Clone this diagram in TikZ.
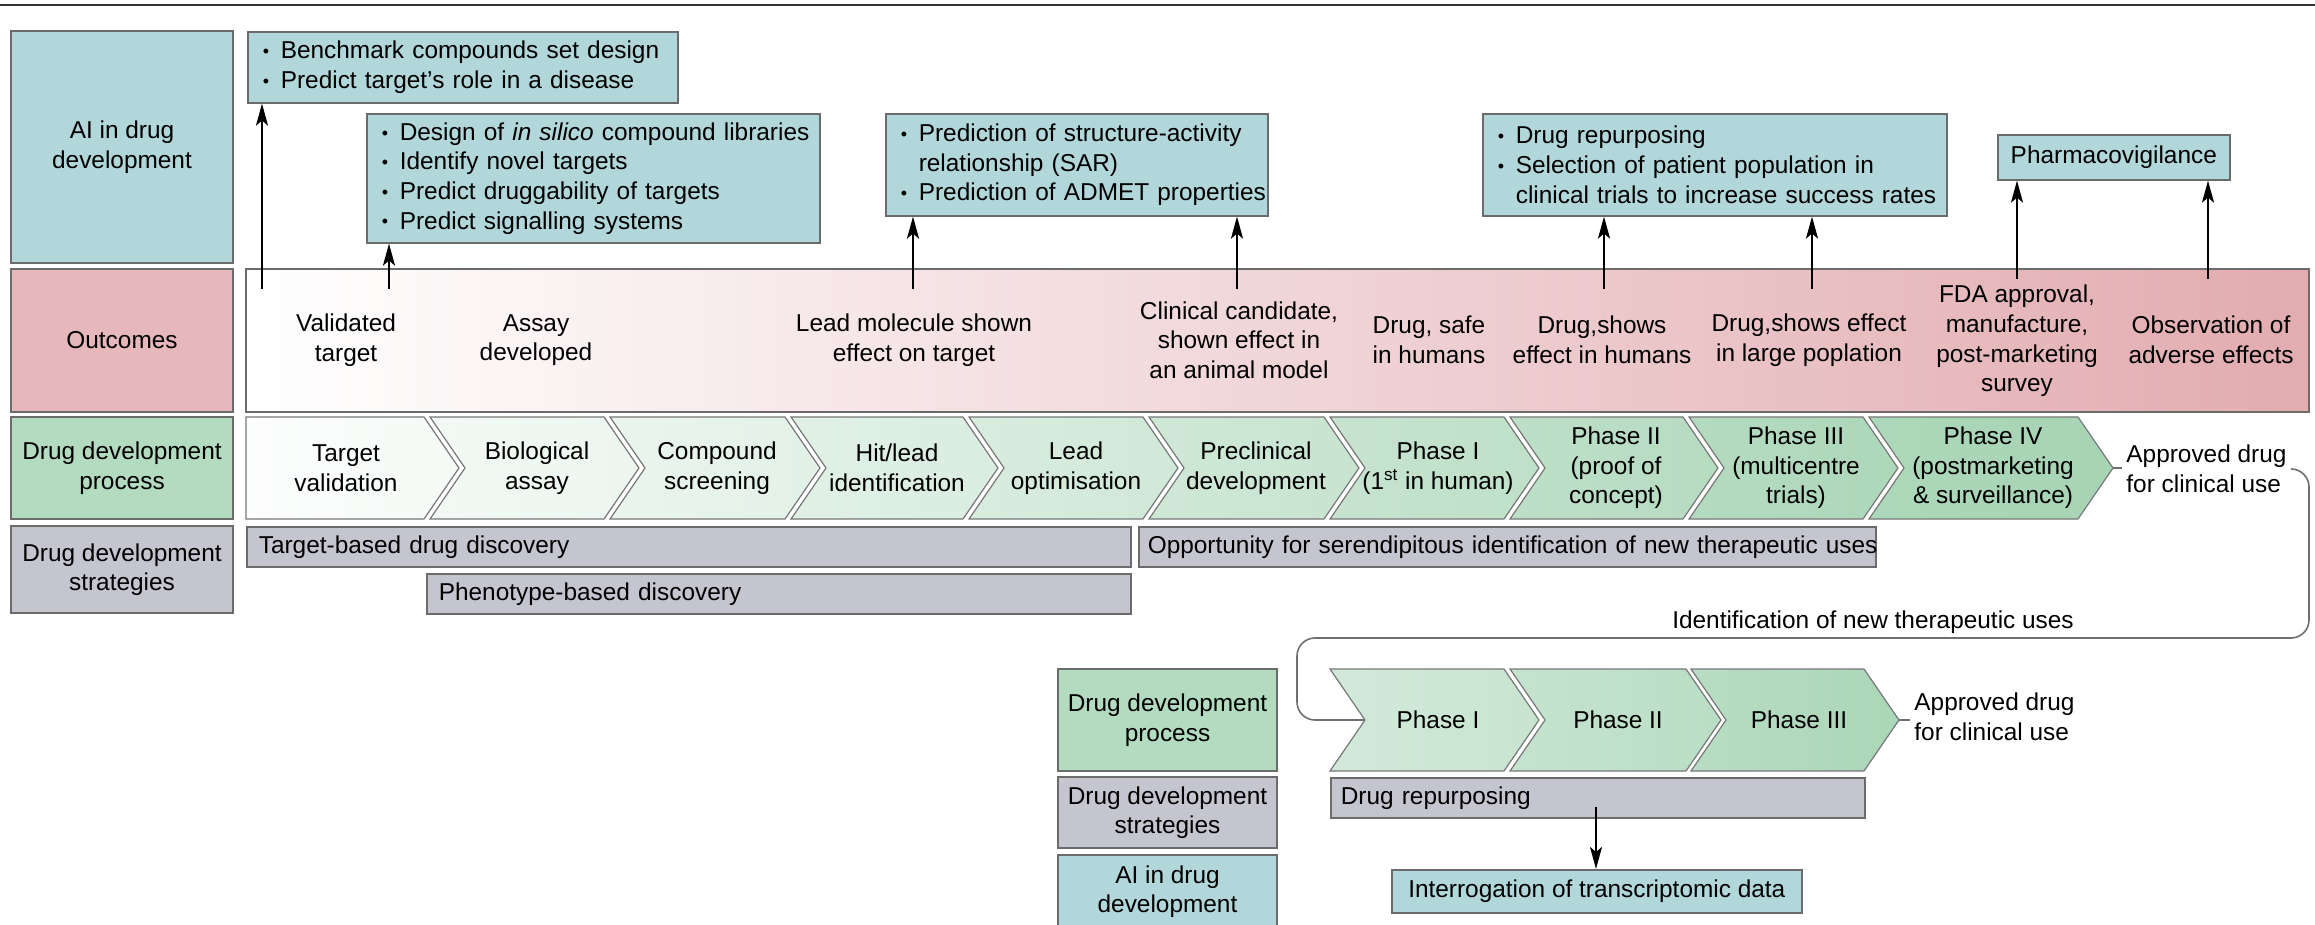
\documentclass[tikz,border=0pt]{standalone}
\usepackage{fontspec}
\setmainfont{Liberation Sans}
\usetikzlibrary{arrows.meta}
\definecolor{aiC}{HTML}{B1D7DA}
\definecolor{outC}{HTML}{E7B8BB}
\definecolor{procC}{HTML}{B2DBBF}
\definecolor{stratC}{HTML}{C5C5D0}
\definecolor{pinkR}{HTML}{E2ACB0}
\definecolor{chevG}{HTML}{A6D4B4}
\definecolor{bordC}{HTML}{6B6B6B}
\definecolor{chevB}{HTML}{777777}
\definecolor{connC}{HTML}{6F6F6F}
\newcommand{\fs}{\fontsize{12.2pt}{14.8pt}\selectfont}
\newcommand{\bul}{\makebox[9pt][l]{\fontsize{9pt}{9pt}\selectfont\raisebox{0.6pt}{•}}}
\newcommand{\bl}[1]{\mbox{\bul #1}}
\newcommand{\cl}[1]{\mbox{\hspace*{9pt}#1}}
\newcommand{\chevN}[6]{%
  \path[chevline, left color=chevG!#5!white, right color=chevG!#6!white]
   (#1,#3) -- (#2,#3) -- ({#2+35},{(#3+#4)/2}) -- (#2,#4) -- (#1,#4) -- ({#1+35},{(#3+#4)/2}) -- cycle;}
\begin{document}
\begin{tikzpicture}[x=0.5pt,y=-0.5pt,
  every node/.style={font=\fs, inner sep=0pt, text=black},
  box/.style={draw=bordC, line width=0.8pt},
  lab/.style={box, align=center, minimum width=111pt},
  labb/.style={box, align=center, minimum width=109.5pt},
  aib/.style={box, fill=aiC, anchor=north west, align=left, inner xsep=7.5pt},
  aic/.style={box, fill=aiC, anchor=north west, align=center},
  bar/.style={box, fill=stratC, anchor=north west, align=left, inner xsep=6pt, minimum height=20pt},
  txt/.style={align=center},
  arr/.style={-{Stealth[length=11pt,width=6pt,inset=2.5pt]}, line width=1.2pt, black},
  conn/.style={draw=connC, line width=0.8pt, rounded corners=9pt},
  chevline/.style={draw=chevB, line width=0.6pt}]
\useasboundingbox (0,0) rectangle (2315,925);
\clip (0,0) rectangle (2315,925);

% top rule
\draw[line width=1.3pt, black!80] (0,5) -- (2315,5);

% left labels
\node[lab, fill=aiC, minimum height=116pt] (aiL) at (122,147) {AI in drug\\development};
\node[lab, fill=outC, minimum height=71.5pt] (outL) at (122,340.5) {Outcomes};
\node[lab, fill=procC, minimum height=51pt] (procL) at (122,468) {Drug development\\process};
\node[lab, fill=stratC, minimum height=43.5pt] (stratL) at (122,569.5) {Drug development\\strategies};

% AI boxes
\node[aib, minimum width=215pt, minimum height=35.5pt, text width=200pt] (ai1) at (247,31)
  {\bl{Benchmark compounds set design}\\\bl{Predict target’s role in a disease}};
\node[aib, minimum width=226.5pt, minimum height=64.5pt, text width=211.5pt] (ai2) at (366,113)
  {\bl{Design of \textit{in silico} compound libraries}\\\bl{Identify novel targets}\\\bl{Predict druggability of targets}\\\bl{Predict signalling systems}};
\node[aib, minimum width=191pt, minimum height=51pt, text width=176pt] (ai3) at (885,113)
  {\bl{Prediction of structure-activity}\\\cl{relationship (SAR)}\\\bl{Prediction of ADMET properties}};
\node[aib, minimum width=232pt, minimum height=51pt, text width=217pt] (ai4) at (1482,113)
  {\bl{Drug repurposing}\\\bl{Selection of patient population in}\\\cl{clinical trials to increase success rates}};
\node[aic, minimum width=116pt, minimum height=22.5pt] (ai5) at (1997,134) {Pharmacovigilance};

% outcomes band
\path[box, left color=white, right color=pinkR] (246,269) rectangle (2309,412);
\node[txt] (o1) at (346,340) {Validated\\target};
\node[txt] (o2) at (536,340) {Assay\\developed};
\node[txt] (o3) at (914,340) {Lead molecule shown\\effect on target};
\node[txt] (o4) at (1239,340) {Clinical candidate,\\shown effect in\\an animal model};
\node[txt] (o5) at (1429,340) {Drug, safe\\in humans};
\node[txt] (o6) at (1602,340) {Drug,shows\\effect in humans};
\node[txt] (o7) at (1809,340) {Drug,shows effect\\in large poplation};
\node[txt] (o8) at (2017,341) {FDA approval,\\manufacture,\\post-marketing\\survey};
\node[txt] (o9) at (2211,340) {Observation of\\adverse effects};

% arrows outcomes -> AI
\coordinate (s1) at (262,289);
\coordinate (s2) at (389,289);
\coordinate (s3) at (913,289);
\coordinate (s4) at (1237,289);
\coordinate (s5) at (1604,289);
\coordinate (s6) at (1812,289);
\coordinate (s7) at (2017,279);
\coordinate (s8) at (2208,279);
\draw[arr] (s1) -- (s1 |- ai1.south);
\draw[arr] (s2) -- (s2 |- ai2.south);
\draw[arr] (s3) -- (s3 |- ai3.south);
\draw[arr] (s4) -- (s4 |- ai3.south);
\draw[arr] (s5) -- (s5 |- ai4.south);
\draw[arr] (s6) -- (s6 |- ai4.south);
\draw[arr] (s7) -- (s7 |- ai5.south);
\draw[arr] (s8) -- (s8 |- ai5.south);

% process chevrons
\path[chevline, left color=chevG!3!white, right color=chevG!12!white]
  (246,417) -- (424,417) -- (459,468) -- (424,519) -- (246,519) -- cycle;
\chevN{430}{604}{417}{519}{14}{22}
\chevN{610}{785}{417}{519}{24}{32}
\chevN{791}{963}{417}{519}{34}{42}
\chevN{969}{1143}{417}{519}{44}{52}
\chevN{1149}{1324}{417}{519}{54}{62}
\chevN{1330}{1504}{417}{519}{64}{72}
\chevN{1510}{1683}{417}{519}{74}{82}
\chevN{1689}{1863}{417}{519}{84}{92}
\chevN{1869}{2078}{417}{519}{92}{100}
\node[txt] (c1) at (346,468) {Target\\validation};
\node[txt] (c2) at (537,468) {Biological\\assay};
\node[txt] (c3) at (717,468) {Compound\\screening};
\node[txt] (c4) at (897,468) {Hit/lead\\identification};
\node[txt] (c5) at (1076,468) {Lead\\optimisation};
\node[txt] (c6) at (1256,468) {Preclinical\\development};
\node[txt] (c7) at (1438,468) {Phase I\\(1\textsuperscript{st} in human)};
\node[txt] (c8) at (1616,468) {Phase II\\(proof of\\concept)};
\node[txt] (c9) at (1796,468) {Phase III\\(multicentre\\trials)};
\node[txt] (c10) at (1993,468) {Phase IV\\(postmarketing\\\& surveillance)};

% strategies bars
\node[bar, minimum width=442pt, text width=430pt] (tb) at (246,526) {\mbox{Target-based drug discovery}};
\node[bar, minimum width=352pt, text width=340pt] (pb) at (426,573) {\mbox{Phenotype-based discovery}};
\node[bar, minimum width=368.5pt, text width=359.5pt, inner xsep=4.5pt] (ob) at (1138,526) {\mbox{Opportunity for serendipitous identification of new therapeutic uses}};

% approved drug and bracket
\node[align=left, anchor=west] (appr1) at (2126,469) {Approved drug\\for clinical use};
\coordinate (c10tip) at (2113,468);
\coordinate (a1w) at ([xshift=-2pt]appr1.west);
\draw[conn] (c10tip) -- (c10tip -| a1w);
\node[txt] (ident) at (1873,622) {Identification of new therapeutic uses};
\coordinate (b1n) at (1365,720);
\draw[conn] ([xshift=2pt]appr1.east) -- (2309,469) -- (2309,638) -- (1297,638) -- (1297,720) -- (b1n);

% bottom section
\node[labb, fill=procC, minimum height=51pt] (procL2) at (1167.5,720) {Drug development\\process};
\node[labb, fill=stratC, minimum height=35.5pt] (stratL2) at (1167.5,812.5) {Drug development\\strategies};
\node[labb, fill=aiC, minimum height=36.5pt] (aiL2) at (1167.5,891.5) {AI in drug\\development};

\chevN{1330}{1504}{669}{771}{50}{62}
\chevN{1510}{1686}{669}{771}{65}{78}
\chevN{1691}{1864}{669}{771}{80}{95}
\node[txt] (b1) at (1438,720) {Phase I};
\node[txt] (b2) at (1618,720) {Phase II};
\node[txt] (b3) at (1799,720) {Phase III};

\node[align=left, anchor=west] (appr2) at (1914,717) {Approved drug\\for clinical use};
\coordinate (b3tip) at (1899,720);
\coordinate (a2w) at ([xshift=-2pt]appr2.west);
\draw[conn] (b3tip) -- (b3tip -| a2w);

\node[bar, minimum width=267pt, text width=257pt, inner xsep=5pt] (rep) at (1330,777) {\mbox{Drug repurposing}};
\node[aic, minimum width=205pt, minimum height=21.5pt] (intr) at (1391,869) {Interrogation of transcriptomic data};
\coordinate (s9) at (1596,807);
\draw[arr] (s9) -- (s9 |- intr.north);
\end{tikzpicture}
\end{document}
